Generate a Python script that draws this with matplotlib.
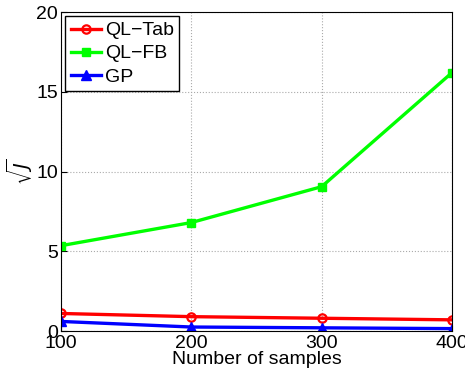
import matplotlib
matplotlib.use('Agg')
import matplotlib.pyplot as plt

plt.rcParams['font.family'] = ['Liberation Sans', 'DejaVu Sans']
plt.rcParams['mathtext.fontset'] = 'dejavusans'

samples = [100, 200, 300, 400]
ql_tab = [1.1, 0.9, 0.8, 0.7]
ql_fb = [5.35, 6.8, 9.05, 16.2]
gp = [0.6, 0.25, 0.2, 0.15]

fig = plt.figure(figsize=(4.65, 3.77), dpi=100)
ax = fig.add_axes([0.131, 0.122, 0.841, 0.846])

ax.plot(samples, ql_tab, color='red', lw=2.4, marker='o', ms=6, mfc='none', mew=1.6, label='QL\u2212Tab')
ax.plot(samples, ql_fb, color='#00ff00', lw=2.4, marker='s', ms=6, label='QL\u2212FB')
ax.plot(samples, gp, color='blue', lw=2.4, marker='^', ms=7, label='GP')

ax.set_xlim(100, 400)
ax.set_ylim(0, 20)
ax.set_xticks([100, 200, 300, 400])
ax.set_yticks([0, 5, 10, 15, 20])
ax.tick_params(direction='in', labelsize=14, length=4)
ax.tick_params(axis='x', pad=3)
ax.tick_params(axis='y', pad=2)
ax.grid(True, linestyle=':', color='#aaaaaa', linewidth=0.8)
ax.set_xlabel('Number of samples', fontsize=14, labelpad=-1)
ax.set_ylabel(r'$\sqrt{J}$', fontsize=14, labelpad=1)

leg = ax.legend(loc='upper left', fontsize=14, fancybox=False, framealpha=1,
                edgecolor='black', borderaxespad=0.2, handlelength=1.55,
                handletextpad=0.2, borderpad=0.3, labelspacing=0.28)
leg.get_frame().set_linewidth(1)

fig.savefig('out.png', dpi=100)
